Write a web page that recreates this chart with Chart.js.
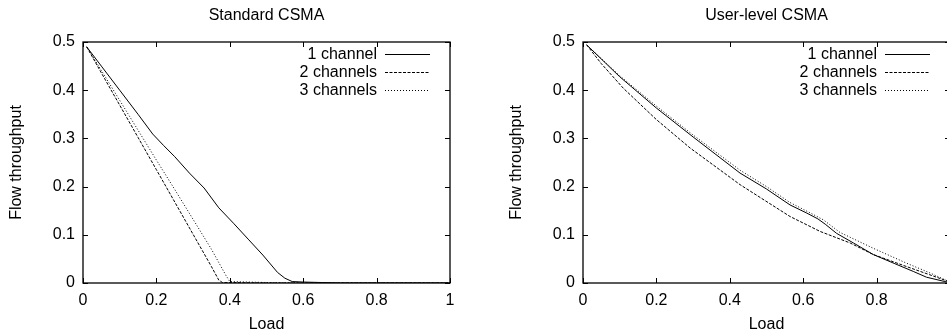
<!DOCTYPE html>
<html>
<head>
<meta charset="utf-8">
<script src="https://cdn.jsdelivr.net/npm/chart.js@4/dist/chart.umd.min.js"></script>
<style>
  html, body { margin: 0; padding: 0; background: #fff; }
  body { width: 947px; height: 334px; position: relative; overflow: hidden; }
  .panel { position: absolute; top: 0; width: 470px; height: 334px; }
</style>
</head>
<body>
<div class="panel" style="left:0"><canvas id="stdChart" width="470" height="334"></canvas></div>
<div class="panel" style="left:500px"><canvas id="userChart" width="470" height="334"></canvas></div>
<script>
// chart data
const seriesLabels = ['1 channel', '2 channels', '3 channels'];
const xTicks = [0, 0.2, 0.4, 0.6, 0.8, 1];
const yTicks = [0, 0.1, 0.2, 0.3, 0.4, 0.5];

// Standard CSMA
const stdLoad1 = [0.01, 0.05, 0.1, 0.15, 0.19, 0.22, 0.25, 0.29, 0.33, 0.37, 0.41, 0.45, 0.49, 0.53, 0.55, 0.57, 0.6, 0.65, 0.7, 0.8, 0.9, 1.0];
const stdThr1  = [0.49, 0.45, 0.40, 0.35, 0.309, 0.285, 0.262, 0.228, 0.197, 0.156, 0.124, 0.091, 0.058, 0.022, 0.01, 0.003, 0.002, 0.001, 0, 0, 0, 0];
const stdLoad2 = [0.01, 0.05, 0.1, 0.15, 0.2, 0.25, 0.3, 0.35, 0.37, 0.38, 0.4, 0.5, 0.6, 0.8, 1.0];
const stdThr2  = [0.49, 0.436, 0.369, 0.302, 0.235, 0.168, 0.101, 0.034, 0.006, 0.001, 0.001, 0, 0, 0, 0];
const stdLoad3 = [0.01, 0.05, 0.1, 0.15, 0.2, 0.25, 0.3, 0.35, 0.39, 0.4, 0.45, 0.5, 0.6, 0.8, 1.0];
const stdThr3  = [0.49, 0.441, 0.379, 0.317, 0.255, 0.194, 0.132, 0.07, 0.015, 0.003, 0.002, 0.001, 0, 0, 0];

// User-level CSMA
const userLoad1 = [0.01, 0.1, 0.2, 0.3, 0.428, 0.5, 0.564, 0.61, 0.64, 0.66, 0.691, 0.737, 0.791, 0.85, 0.9, 0.936, 0.986, 1.0];
const userThr1  = [0.494, 0.428, 0.363, 0.303, 0.228, 0.195, 0.162, 0.145, 0.133, 0.122, 0.103, 0.083, 0.059, 0.04, 0.024, 0.012, 0.003, 0.001];
const userLoad2 = [0.01, 0.05, 0.11, 0.2, 0.292, 0.428, 0.564, 0.646, 0.728, 0.791, 0.882, 0.945, 1.0];
const userThr2  = [0.494, 0.455, 0.404, 0.339, 0.28, 0.204, 0.138, 0.107, 0.083, 0.059, 0.034, 0.017, 0.002];
const userLoad3 = [0.01, 0.1, 0.2, 0.3, 0.428, 0.5, 0.564, 0.62, 0.655, 0.7, 0.791, 0.882, 0.945, 1.0];
const userThr3  = [0.494, 0.43, 0.367, 0.307, 0.234, 0.2, 0.167, 0.145, 0.131, 0.105, 0.072, 0.041, 0.021, 0.002];

const lineDashes = [[], [3, 1.5], [1, 2]];
const FONT = { family: '"Liberation Sans", Arial, sans-serif', size: 16 };

// gnuplot style frame with inward ticks on all sides, plus key in the top right
const framePlugin = {
  id: 'frame',
  afterDraw(chart) {
    const ctx = chart.ctx;
    const a = chart.chartArea;
    const xs = chart.scales.x, ys = chart.scales.y;
    const tl = 5;
    ctx.save();
    ctx.strokeStyle = '#000';
    ctx.lineWidth = 1.3;
    ctx.setLineDash([]);
    ctx.strokeRect(a.left, a.top, a.right - a.left, a.bottom - a.top);
    ctx.lineWidth = 1;
    ctx.beginPath();
    xTicks.forEach(v => {
      const px = Math.round(xs.getPixelForValue(v)) + 0.5;
      ctx.moveTo(px, a.bottom); ctx.lineTo(px, a.bottom - tl);
      ctx.moveTo(px, a.top); ctx.lineTo(px, a.top + tl);
    });
    yTicks.forEach(v => {
      const py = Math.round(ys.getPixelForValue(v)) + 0.5;
      ctx.moveTo(a.left, py); ctx.lineTo(a.left + tl, py);
      ctx.moveTo(a.right, py); ctx.lineTo(a.right - tl, py);
    });
    ctx.stroke();

    // key
    ctx.font = FONT.size + 'px ' + FONT.family;
    ctx.fillStyle = '#000';
    ctx.textAlign = 'right';
    ctx.textBaseline = 'middle';
    chart.data.datasets.forEach((ds, i) => {
      const y = Math.round(a.top + 11.5 + i * 18) + 0.5;
      ctx.fillText(ds.label, a.right - 73, y);
      ctx.setLineDash(ds.borderDash);
      ctx.beginPath();
      ctx.moveTo(a.right - 65, y);
      ctx.lineTo(a.right - 20, y);
      ctx.stroke();
    });
    ctx.restore();
  }
};

// lastLabel: false where the right edge of the plot is cut off in the picture
function makeChart(id, title, loads, thr, lastLabel) {
  return new Chart(document.getElementById(id), {
    type: 'line',
    data: {
      datasets: seriesLabels.map((label, i) => ({
        label: label,
        data: loads[i].map((x, j) => ({ x: x, y: thr[i][j] })),
        borderColor: '#000',
        borderWidth: 1,
        borderDash: lineDashes[i],
        pointRadius: 0,
        fill: false,
        tension: 0
      }))
    },
    options: {
      responsive: false,
      animation: false,
      devicePixelRatio: 1,
      layout: { padding: { left: 0, right: 20, top: 0, bottom: 0 } },
      plugins: { legend: { display: false }, tooltip: { enabled: false } },
      scales: {
        x: {
          type: 'linear', position: 'bottom', min: 0, max: 1,
          afterBuildTicks: s => { s.ticks = xTicks.map(v => ({ value: v })); },
          afterFit: s => { s.height = 51; },
          grid: { display: false, drawTicks: false },
          border: { display: false },
          ticks: {
            color: '#000', font: FONT, padding: 8, maxRotation: 0,
            callback: v => (v === 1 && !lastLabel) ? '' : String(v)
          },
          title: { display: true, text: 'Load', color: '#000', font: FONT, padding: { top: 0, bottom: 0 } }
        },
        x2: {
          axis: 'x', type: 'linear', position: 'top', min: 0, max: 1,
          afterFit: s => { s.height = 42; },
          grid: { display: false, drawTicks: false },
          border: { display: false },
          ticks: { display: false },
          title: { display: true, text: title, color: '#000', font: FONT, padding: { top: 6, bottom: 0 } }
        },
        y: {
          type: 'linear', position: 'left', min: 0, max: 0.5,
          afterBuildTicks: s => { s.ticks = yTicks.map(v => ({ value: v })); },
          afterFit: s => { s.width = 83; },
          grid: { display: false, drawTicks: false },
          border: { display: false },
          ticks: { color: '#000', font: FONT, padding: 8, callback: v => String(v) },
          title: { display: true, text: 'Flow throughput', color: '#000', font: FONT, padding: { top: 7, bottom: 0 } }
        }
      }
    },
    plugins: [framePlugin]
  });
}

makeChart('stdChart', 'Standard CSMA', [stdLoad1, stdLoad2, stdLoad3], [stdThr1, stdThr2, stdThr3], true);
makeChart('userChart', 'User-level CSMA', [userLoad1, userLoad2, userLoad3], [userThr1, userThr2, userThr3], false);
</script>
</body>
</html>
